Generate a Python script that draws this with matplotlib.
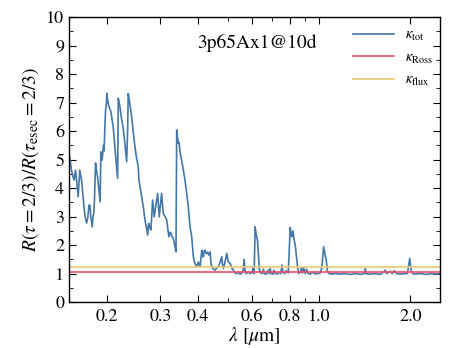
#!/usr/bin/env python3
"""
Photospheric radius ratio vs wavelength for a single model epoch.
"""

import numpy as np
import matplotlib.pyplot as plt
from matplotlib.ticker import FixedLocator, FixedFormatter, MultipleLocator, NullFormatter

plt.rcParams['font.family'] = 'STIXGeneral'
plt.rcParams['mathtext.fontset'] = 'stix'

# wavelength [micron] and R(tau=2/3)/R(tau_esec=2/3)
lam = [0.1498, 0.1515, 0.1529, 0.1545, 0.1560, 0.1576, 0.1590, 0.1608, 0.1618, 0.1628,
       0.1640, 0.1650, 0.1665, 0.1679, 0.1695, 0.1714, 0.1730, 0.1745, 0.1758, 0.1770,
       0.1789, 0.1800, 0.1812, 0.1820, 0.1835, 0.1850, 0.1863, 0.1880, 0.1900, 0.1910,
       0.1920, 0.1929, 0.1940, 0.1950, 0.1958, 0.1970, 0.1980, 0.1990, 0.2000, 0.2010,
       0.2020, 0.2040, 0.2060, 0.2098, 0.2130, 0.2169, 0.2180, 0.2190, 0.2208, 0.2230,
       0.2264, 0.2290, 0.2323, 0.2340, 0.2351, 0.2370, 0.2413, 0.2440, 0.2474, 0.2500,
       0.2537, 0.2550, 0.2575, 0.2603, 0.2640, 0.2669, 0.2700, 0.2724, 0.2740, 0.2751,
       0.2770, 0.2793, 0.2810, 0.2829, 0.2845, 0.2864, 0.2900, 0.2939, 0.2955, 0.2975,
       0.3000, 0.3030, 0.3050, 0.3067, 0.3110, 0.3148, 0.3180, 0.3203, 0.3230, 0.3252,
       0.3280, 0.3310, 0.3345, 0.3378, 0.3396, 0.3415, 0.3438, 0.3460, 0.3482, 0.3550,
       0.3617, 0.3709, 0.3757, 0.3806, 0.3853, 0.3882, 0.3954, 0.4003, 0.4030, 0.4055,
       0.4080, 0.4108, 0.4130, 0.4159, 0.4185, 0.4212, 0.4250, 0.4294, 0.4330, 0.4376,
       0.4400, 0.4433, 0.4490, 0.4545, 0.4600, 0.4661, 0.4720, 0.4782, 0.4810, 0.4841,
       0.4900, 0.4966, 0.5000, 0.5027, 0.5100, 0.5150, 0.5222, 0.5290, 0.5359, 0.5420,
       0.5494, 0.5560, 0.5620, 0.5664, 0.5700, 0.5751, 0.5850, 0.5928, 0.6000, 0.6065,
       0.6110, 0.6158, 0.6200, 0.6266, 0.6362, 0.6420, 0.6494, 0.6560, 0.6600, 0.6700,
       0.6800, 0.6850, 0.6902, 0.6950, 0.7050, 0.7100, 0.7171, 0.7300, 0.7400, 0.7480,
       0.7545, 0.7600, 0.7700, 0.7800, 0.7915, 0.8035, 0.8080, 0.8139, 0.8201, 0.8270,
       0.8346, 0.8420, 0.8493, 0.8560, 0.8670, 0.8750, 0.8820, 0.8900, 0.9006, 0.9100,
       0.9200, 0.9354, 0.9500, 0.9717, 0.9900, 1.0092, 1.0207, 1.0350, 1.0450, 1.0560,
       1.0660, 1.0800, 1.1000, 1.1300, 1.1750, 1.2200, 1.2680, 1.3200, 1.3680, 1.4100,
       1.4200, 1.4300, 1.4750, 1.5300, 1.5920, 1.6300, 1.6530, 1.6700, 1.7180, 1.7400,
       1.7700, 1.8000, 1.8540, 1.9200, 1.9550, 1.9890, 2.0150, 2.0500, 2.1580, 2.2500,
       2.3500, 2.4500, 2.5120]
ratio_tot = [5.25, 4.95, 4.63, 4.40, 4.28, 4.63, 4.25, 3.70, 4.20, 4.63,
             4.45, 4.28, 3.80, 3.40, 3.00, 2.77, 2.95, 3.40, 3.40, 3.00,
             2.64, 3.00, 3.12, 3.60, 4.88, 4.60, 4.40, 4.00, 3.52, 5.27,
             5.10, 4.98, 5.30, 5.50, 5.30, 6.20, 6.74, 6.90, 7.32, 7.10,
             6.97, 6.80, 6.70, 6.15, 5.30, 4.34, 7.15, 7.05, 6.85, 6.50,
             6.09, 5.60, 4.92, 6.00, 7.32, 7.10, 6.50, 6.00, 5.45, 5.10,
             4.75, 4.28, 4.00, 3.70, 3.30, 2.88, 2.60, 2.35, 2.70, 2.76,
             2.60, 2.53, 3.00, 3.58, 3.30, 2.99, 3.40, 3.81, 3.40, 2.99,
             3.40, 3.81, 3.40, 3.11, 3.00, 2.88, 2.50, 2.29, 2.45, 2.41,
             2.30, 2.23, 2.00, 1.76, 6.04, 5.80, 5.57, 5.60, 5.27, 4.80,
             4.28, 3.34, 2.64, 2.29, 1.59, 1.41, 1.24, 1.41, 1.30, 1.24,
             1.50, 1.82, 1.60, 1.59, 1.80, 1.82, 1.70, 1.75, 1.65, 1.76,
             1.40, 1.24, 1.15, 1.12, 1.20, 1.24, 1.40, 1.59, 1.30, 1.18,
             1.40, 1.71, 1.50, 1.41, 1.35, 1.20, 1.12, 1.02, 1.00, 1.05,
             0.98, 1.02, 1.10, 1.50, 1.10, 1.00, 1.05, 1.00, 1.02, 1.20,
             1.00, 2.64, 2.40, 2.18, 1.12, 1.02, 1.00, 1.15, 1.00, 0.98,
             1.12, 1.00, 1.18, 1.00, 0.98, 1.12, 1.00, 0.99, 1.05, 1.00,
             1.30, 1.05, 1.00, 1.10, 1.02, 2.62, 2.40, 2.29, 2.50, 2.20,
             2.00, 1.60, 1.24, 1.00, 1.05, 1.20, 1.02, 1.20, 1.00, 1.15,
             1.00, 0.98, 1.05, 0.99, 1.00, 1.02, 1.20, 1.94, 1.70, 1.47,
             1.06, 1.00, 0.98, 1.00, 0.98, 1.00, 0.97, 1.00, 0.97, 1.00,
             1.18, 0.99, 0.98, 1.00, 0.97, 1.05, 1.12, 1.00, 1.08, 1.00,
             1.10, 1.00, 0.98, 1.00, 1.00, 1.53, 1.05, 0.98, 1.00, 0.97,
             1.00, 0.98, 1.00]
ratio_ross = 1.05
ratio_flux = 1.23

xticks = [0.2, 0.3, 0.4, 0.6, 0.8, 1.0, 2.0]
xtick_labels = ['0.2', '0.3', '0.4', '0.6', '0.8', '1.0', '2.0']
xminor = [0.5, 0.7, 0.9]

c_tot = '#4477aa'
c_ross = '#e8506a'
c_flux = '#e6cb72'

fig = plt.figure(figsize=(4.63, 3.48), dpi=100)
ax = fig.add_axes([0.149, 0.132, 0.801, 0.819])

ax.plot(lam, ratio_tot, color=c_tot, lw=1.2, label=r'$\kappa_{\rm tot}$')
ax.axhline(ratio_ross, color=c_ross, lw=1.2, label=r'$\kappa_{\rm Ross}$')
ax.axhline(ratio_flux, color=c_flux, lw=1.2, label=r'$\kappa_{\rm flux}$')

ax.set_xscale('log')
ax.set_xlim(0.15, 2.5)
ax.set_ylim(0, 10)

ax.xaxis.set_major_locator(FixedLocator(xticks))
ax.xaxis.set_major_formatter(FixedFormatter(xtick_labels))
ax.xaxis.set_minor_locator(FixedLocator(xminor))
ax.xaxis.set_minor_formatter(NullFormatter())
ax.yaxis.set_major_locator(MultipleLocator(1))
ax.yaxis.set_minor_locator(MultipleLocator(0.5))

ax.tick_params(which='both', direction='in', top=True, right=True, labelsize=13)
ax.tick_params(which='major', length=5, width=0.8)
ax.tick_params(which='minor', length=3, width=0.6)
ax.tick_params(axis='x', pad=5)
for s in ax.spines.values():
    s.set_linewidth(1.0)

ax.set_xlabel(r'$\lambda$ [$\mu$m]', fontsize=14, labelpad=0)
ax.set_ylabel(r'$R(\tau=2/3)/R(\tau_{\rm esec}=2/3)$', fontsize=14)

ax.text(0.345, 0.91, '3p65Ax1@10d', transform=ax.transAxes,
        fontsize=14, va='center', ha='left')

ax.legend(loc='upper right', bbox_to_anchor=(1.0, 0.985), frameon=False,
          fontsize=10.5, handlelength=2.8, handletextpad=0.7,
          borderaxespad=0.1, labelspacing=0.55)

fig.savefig('out.png', dpi=100)
